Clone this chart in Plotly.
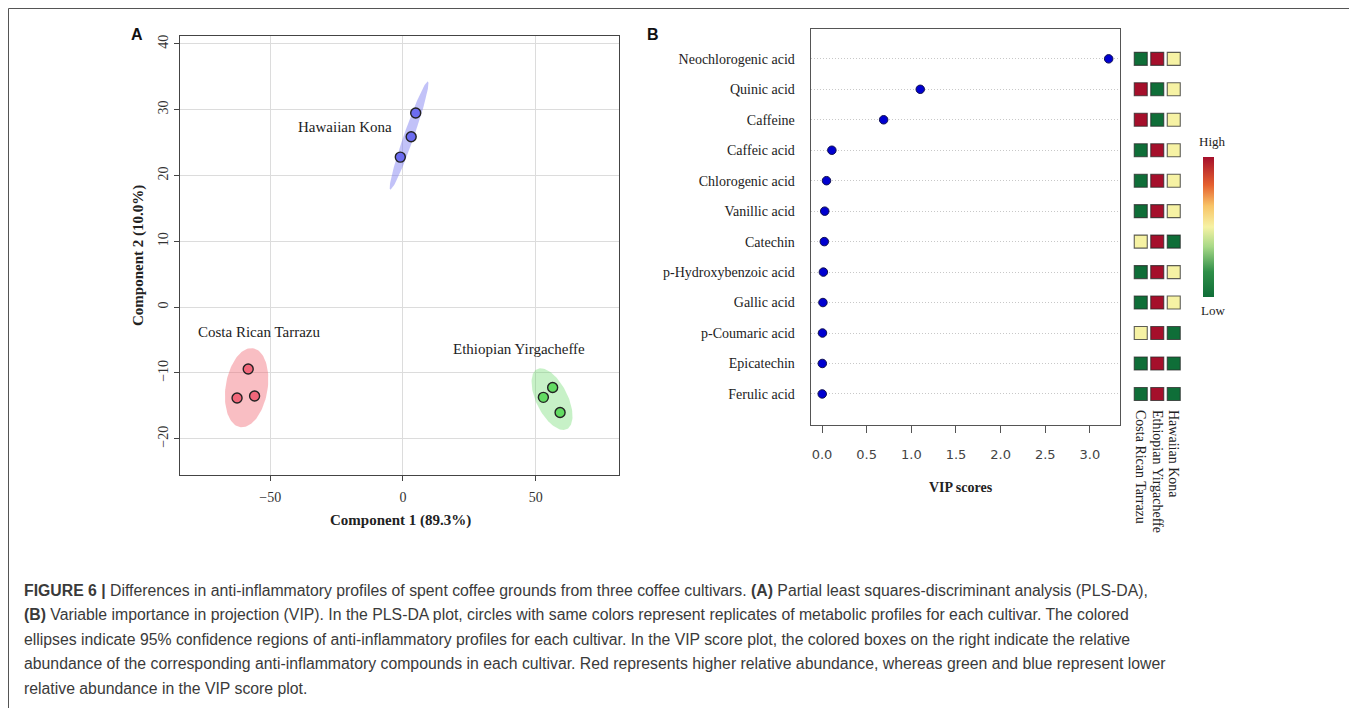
import numpy as np
import plotly.graph_objects as go

# page body adds an 8px margin; the figure is sized/placed to compensate
W, H = 1357, 708
OFF = 8
FW, FH = W - OFF, H - OFF

# ---------------- Panel A data (PLS-DA scores) ----------------
cultivars = ["Costa Rican Tarrazu", "Ethiopian Yirgacheffe", "Hawaiian Kona"]
comp1_costa = [-58.3, -62.5, -55.9]
comp2_costa = [-9.4, -13.8, -13.5]
comp1_ethiopia = [52.9, 56.4, 59.2]
comp2_ethiopia = [-13.7, -12.2, -16.0]
comp1_hawaii = [-1.0, 3.1, 4.8]
comp2_hawaii = [22.8, 25.9, 29.5]
a_xticks = [-50, 0, 50]
a_yticks = [-20, -10, 0, 10, 20, 30, 40]

# ---------------- Panel B data (VIP scores) ----------------
compounds = ["Neochlorogenic acid", "Quinic acid", "Caffeine", "Caffeic acid",
             "Chlorogenic acid", "Vanillic acid", "Catechin", "p-Hydroxybenzoic acid",
             "Gallic acid", "p-Coumaric acid", "Epicatechin", "Ferulic acid"]
vip_scores = [3.21, 1.10, 0.69, 0.11, 0.05, 0.03, 0.025, 0.015, 0.01, 0.005, 0.003, 0.002]
# relative abundance (0 = low / green, 0.5 = mid / yellow, 1 = high / red)
rel_costa = [0, 1, 1, 0, 0, 0, 0.5, 0, 0, 0.5, 0, 0]
rel_ethiopia = [1, 0, 0, 1, 1, 1, 1, 1, 1, 1, 1, 1]
rel_hawaii = [0.5, 0.5, 0.5, 0.5, 0.5, 0.5, 0, 0.5, 0.5, 0, 0, 0]
b_xticks = [0.0, 0.5, 1.0, 1.5, 2.0, 2.5, 3.0]

SERIF = "Liberation Serif"
SANS = "Liberation Sans"


def px(x):
    return (x - OFF) / FW


def py(y):
    return 1 - (y - OFF) / FH


def conf_ellipse(xs, ys, chi2=5.991, n=120):
    xs = np.asarray(xs, float)
    ys = np.asarray(ys, float)
    cov = np.cov(np.vstack([xs, ys]))
    vals, vecs = np.linalg.eigh(cov)
    vals = np.clip(vals, 0, None)
    t = np.linspace(0, 2 * np.pi, n)
    circ = np.vstack([np.cos(t), np.sin(t)])
    pts = vecs @ (np.sqrt(vals * chi2)[:, None] * circ)
    return pts[0] + xs.mean(), pts[1] + ys.mean()


fig = go.Figure()

groups = [
    (comp1_costa, comp2_costa, "#F2677A", "rgba(240,100,112,0.42)", cultivars[0]),
    (comp1_ethiopia, comp2_ethiopia, "#62DB62", "rgba(100,215,100,0.36)", cultivars[1]),
    (comp1_hawaii, comp2_hawaii, "#6C6CF0", "rgba(110,110,238,0.42)", cultivars[2]),
]
for xs, ys, col, fillc, name in groups:
    ex, ey = conf_ellipse(xs, ys)
    fig.add_trace(go.Scatter(x=ex, y=ey, mode="lines", fill="toself", fillcolor=fillc,
                             line=dict(width=0), hoverinfo="skip", showlegend=False,
                             xaxis="x", yaxis="y"))
for xs, ys, col, fillc, name in groups:
    fig.add_trace(go.Scatter(x=xs, y=ys, mode="markers", name=name, showlegend=False,
                             marker=dict(size=10, color=col, line=dict(color="#222", width=1.4)),
                             xaxis="x", yaxis="y"))

# Panel B: VIP dot plot
fig.add_trace(go.Scatter(x=vip_scores, y=compounds, mode="markers", showlegend=False,
                         marker=dict(size=8.5, color="#0000D0", line=dict(color="#101050", width=1)),
                         xaxis="x2", yaxis="y2"))

# Heatmap boxes
hx, hy, hv = [], [], []
for cname, vals in zip(cultivars, [rel_costa, rel_ethiopia, rel_hawaii]):
    for comp, v in zip(compounds, vals):
        hx.append(cname)
        hy.append(comp)
        hv.append(v)

cscale = [[0.0, "#0f6e38"], [0.18, "#2f8f48"], [0.36, "#a8d987"], [0.5, "#f6f2a4"],
          [0.65, "#f8c467"], [0.8, "#e5602f"], [1.0, "#a50f2b"]]
fig.add_trace(go.Scatter(
    x=hx, y=hy, mode="markers", showlegend=False, xaxis="x3", yaxis="y3",
    marker=dict(symbol="square", size=13, color=hv, colorscale=cscale, cmin=0, cmax=1,
                line=dict(color="rgba(40,40,40,0.75)", width=1.1),
                showscale=True,
                colorbar=dict(thickness=11, thicknessmode="pixels", len=140, lenmode="pixels",
                              x=px(1203), xanchor="left", y=py(226.7), yanchor="middle",
                              xpad=0, ypad=0, outlinewidth=0, showticklabels=False, ticks=""))))

rev = compounds[::-1]
cat_rng = [-1.02, 11.98]

fig.update_layout(
    width=FW, height=FH, autosize=False,
    margin=dict(l=0, r=0, t=0, b=0),
    paper_bgcolor="white", plot_bgcolor="white",
    xaxis=dict(domain=[px(180), px(619)], range=[-84, 81.4], tickvals=a_xticks,
               showgrid=True, gridcolor="#dcdcdc", gridwidth=1, zeroline=False,
               showline=True, mirror=True, linecolor="#444", linewidth=1.2,
               ticks="outside", ticklen=5, tickcolor="#444",
               tickfont=dict(family=SERIF, size=14, color="#333"), ticklabelstandoff=4,
               anchor="y"),
    yaxis=dict(domain=[py(475), py(36)], range=[-25.5, 41.2], tickvals=a_yticks,
               showgrid=True, gridcolor="#dcdcdc", gridwidth=1, zeroline=False,
               showline=True, mirror=True, linecolor="#444", linewidth=1.2,
               ticks="outside", ticklen=5, tickcolor="#444", tickangle=-90,
               tickfont=dict(family=SERIF, size=14, color="#333"), anchor="x"),
    xaxis2=dict(domain=[px(810.7), px(1120)], range=[-0.127, 3.337], tickvals=b_xticks,
                tickformat=".1f", showgrid=False, zeroline=False,
                showline=True, mirror=True, linecolor="#555", linewidth=1.2,
                ticks="outside", ticklen=7, tickcolor="#555",
                tickfont=dict(family="DejaVu Sans", size=13, color="#444"),
                ticklabelstandoff=10, anchor="y2"),
    yaxis2=dict(domain=[py(425), py(29)], type="category", categoryorder="array",
                categoryarray=rev, range=cat_rng,
                showgrid=True, gridcolor="#c8c8c8", griddash="1px,2px", gridwidth=1,
                zeroline=False, showline=True, mirror=True, linecolor="#555", linewidth=1.2,
                ticks="", tickfont=dict(family=SERIF, size=14, color="#222"),
                ticklabelstandoff=12, anchor="x2"),
    xaxis3=dict(domain=[px(1132.5), px(1182)], type="category", categoryorder="array",
                categoryarray=cultivars, range=[-0.5, 2.5], tickmode="array",
                tickvals=cultivars, ticktext=cultivars, showgrid=False, zeroline=False,
                showline=False, ticks="", tickangle=90, anchor="free", position=py(409),
                tickfont=dict(family=SERIF, size=14, color="#222")),
    yaxis3=dict(domain=[py(425), py(29)], type="category", categoryorder="array",
                categoryarray=rev, range=cat_rng, visible=False, anchor="x3"),
)

annotations = [
    dict(text="<b>A</b>", x=px(137), y=py(34), font=dict(family=SANS, size=16, color="#111")),
    dict(text="<b>B</b>", x=px(653), y=py(34), font=dict(family=SANS, size=16, color="#111")),
    dict(text="<b>Component 1 (89.3%)</b>", x=px(400), y=py(520),
         font=dict(family=SERIF, size=15, color="#222")),
    dict(text="<b>Component 2 (10.0%)</b>", x=px(138), y=py(256), textangle=-90,
         font=dict(family=SERIF, size=15, color="#222")),
    dict(text="<b>VIP scores</b>", x=px(961), y=py(487),
         font=dict(family=SERIF, size=14, color="#222")),
    dict(text="High", x=px(1212), y=py(142), font=dict(family=SERIF, size=13, color="#222")),
    dict(text="Low", x=px(1213), y=py(310), font=dict(family=SERIF, size=13, color="#222")),
]
for a in annotations:
    a.update(xref="paper", yref="paper", showarrow=False, xanchor="center", yanchor="middle")

# group labels in panel A
for txt, lx, ly in [("Hawaiian Kona", -21.9, 27.4), ("Costa Rican Tarrazu", -54.2, -3.8),
                    ("Ethiopian Yirgacheffe", 43.7, -6.4)]:
    annotations.append(dict(text=txt, x=lx, y=ly, xref="x", yref="y", showarrow=False,
                            font=dict(family=SERIF, size=15, color="#222")))

caption = [
    "<b>FIGURE 6 |</b> Differences in anti-inflammatory profiles of spent coffee grounds from three coffee cultivars. <b>(A)</b> Partial least squares-discriminant analysis (PLS-DA),",
    "<b>(B)</b> Variable importance in projection (VIP). In the PLS-DA plot, circles with same colors represent replicates of metabolic profiles for each cultivar. The colored",
    "ellipses indicate 95% confidence regions of anti-inflammatory profiles for each cultivar. In the VIP score plot, the colored boxes on the right indicate the relative",
    "abundance of the corresponding anti-inflammatory compounds in each cultivar. Red represents higher relative abundance, whereas green and blue represent lower",
    "relative abundance in the VIP score plot.",
]
for i, line in enumerate(caption):
    annotations.append(dict(text=line, x=px(22), y=py(590 + 24.5 * i), xref="paper", yref="paper",
                            xanchor="left", yanchor="middle", showarrow=False,
                            font=dict(family=SANS, size=15.8, color="#3a3a3a")))

fig.update_layout(annotations=annotations)

fig.add_shape(type="rect", xref="paper", yref="paper", x0=px(8.5), x1=px(1350.5),
              y0=-0.05, y1=py(8.5), line=dict(color="#555", width=1), layer="above")

fig.write_html("out.html")
